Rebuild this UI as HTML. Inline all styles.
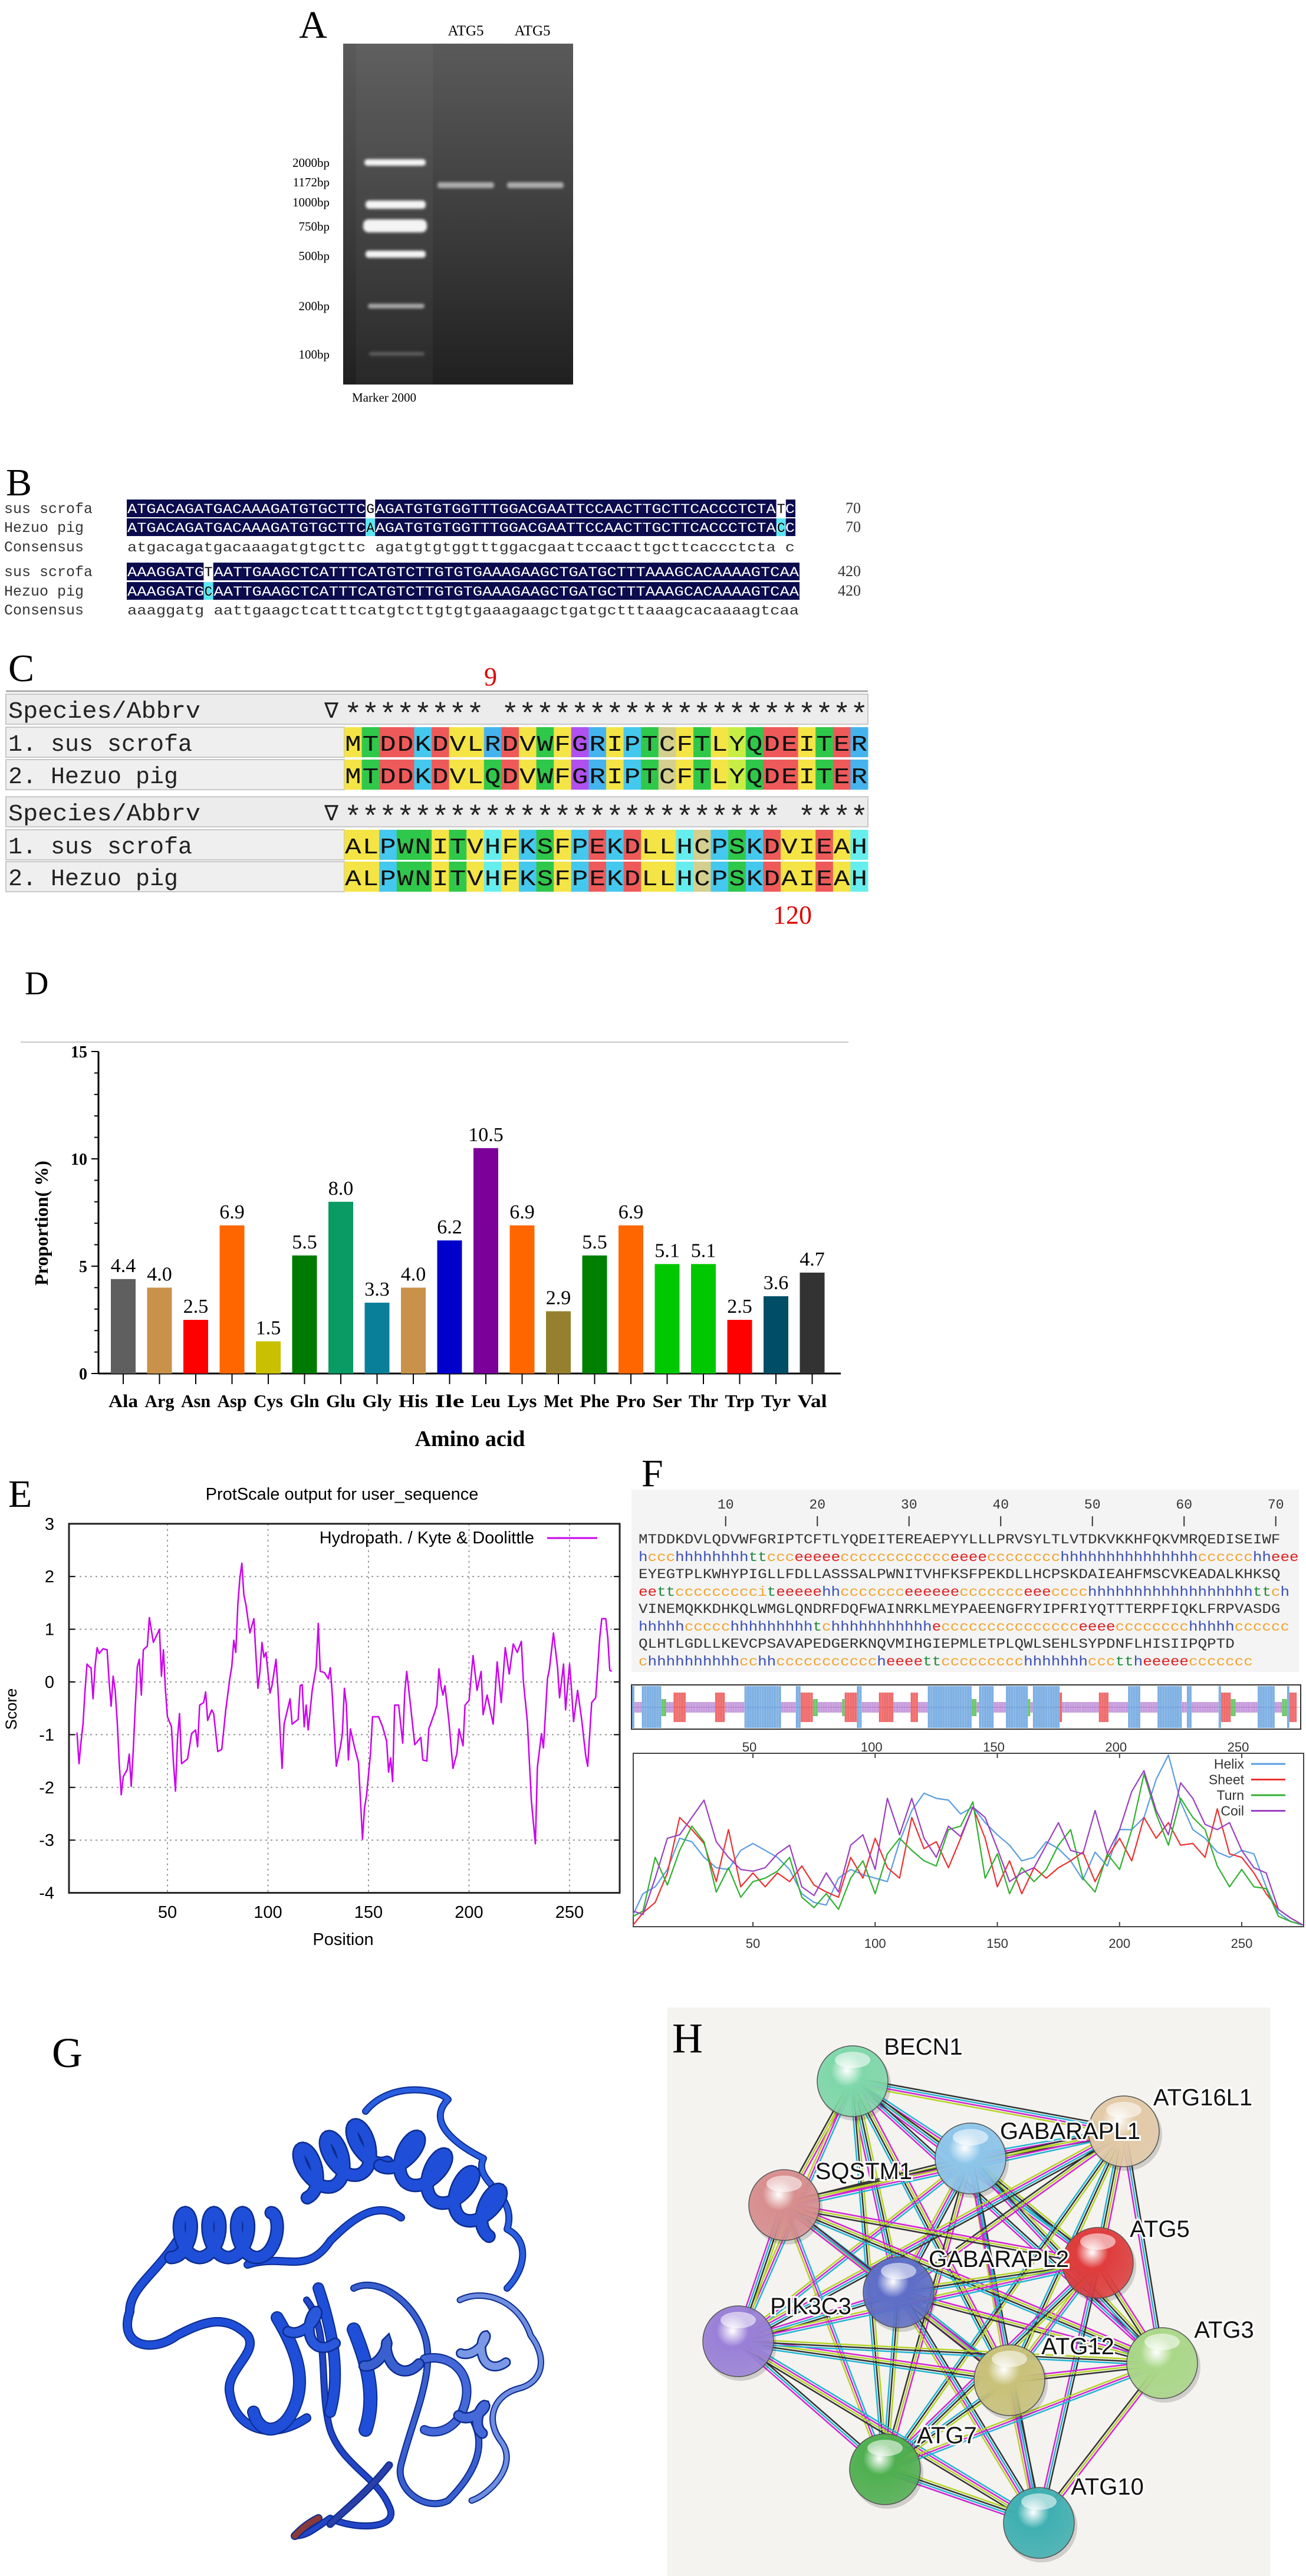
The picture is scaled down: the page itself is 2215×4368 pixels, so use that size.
<!DOCTYPE html>
<html><head><meta charset="utf-8"><style>
html,body{margin:0;padding:0;background:#fff;}
svg{display:block;}
.serif{font-family:"Liberation Serif",serif;}
.sans{font-family:"Liberation Sans",sans-serif;}
.mono{font-family:"Liberation Mono",monospace;}
</style></head><body>
<svg id="fig" width="2215" height="4368" viewBox="0 0 2215 4368" xmlns="http://www.w3.org/2000/svg">
<defs>
<linearGradient id="gelg" x1="0" y1="0" x2="0" y2="1"><stop offset="0" stop-color="#5a5a5a"/><stop offset="0.5" stop-color="#3e3e3e"/><stop offset="1" stop-color="#202020"/></linearGradient>
<filter id="blur2"><feGaussianBlur stdDeviation="2.5"/></filter>
<clipPath id="stripclip"><rect x="1072" y="2858" width="1133" height="73"/></clipPath>
</defs>

<!-- Panel A -->
<g>
<text class="serif" x="531" y="64" font-size="66" text-anchor="middle">A</text>
<text class="serif" x="790" y="60" font-size="25" text-anchor="middle">ATG5</text>
<text class="serif" x="903" y="60" font-size="25" text-anchor="middle">ATG5</text>
<rect x="582" y="74" width="390" height="578" fill="url(#gelg)"/>
<rect x="604" y="74" width="130" height="578" fill="#fff" opacity="0.04"/>
<g filter="url(#blur2)" fill="#f4f4f4">
<rect x="618" y="270" width="104" height="11" rx="5"/>
<rect x="620" y="340" width="102" height="14" rx="6"/>
<rect x="616" y="372" width="108" height="22" rx="9"/>
<rect x="620" y="425" width="102" height="12" rx="5"/>
<rect x="624" y="515" width="96" height="8" rx="4" opacity="0.6"/>
<rect x="626" y="597" width="94" height="6" rx="3" opacity="0.25"/>
<rect x="742" y="309" width="96" height="10" rx="4" opacity="0.6"/>
<rect x="860" y="309" width="96" height="10" rx="4" opacity="0.6"/>
</g>
<g class="serif" font-size="21" text-anchor="end">
<text x="559" y="283">2000bp</text>
<text x="559" y="316">1172bp</text>
<text x="559" y="350">1000bp</text>
<text x="559" y="391">750bp</text>
<text x="559" y="441">500bp</text>
<text x="559" y="526">200bp</text>
<text x="559" y="608">100bp</text>
</g>
<text class="serif" x="597" y="681" font-size="21">Marker 2000</text>
</g>

<!-- Panel B -->
<g id="panelB">
<text class="serif" x="10" y="840" font-size="66">B</text>
</g>
<!-- Panel C -->
<g id="panelC">
<text class="serif" x="14" y="1155" font-size="66">C</text>
<text class="serif" x="832" y="1162" font-size="44" fill="#e00000" text-anchor="middle">9</text>
<text class="serif" x="1344" y="1566" font-size="44" fill="#e00000" text-anchor="middle">120</text>
</g>
<!-- Panel D -->
<g id="panelD">
<text class="serif" x="42" y="1686" font-size="56">D</text>
<line x1="35" y1="1767" x2="1439" y2="1767" stroke="#c8c8c8" stroke-width="2"/>
<text class="serif" x="797" y="2452" font-size="38" font-weight="bold" text-anchor="middle">Amino acid</text>
<text class="serif" font-size="32" font-weight="bold" text-anchor="middle" transform="translate(81,2074) rotate(-90)">Proportion( %)</text>
</g>
<!-- Panel E -->
<g id="panelE">
<text class="serif" x="14" y="2555" font-size="66">E</text>
<text class="sans" x="580" y="2543" font-size="29" text-anchor="middle">ProtScale output for user_sequence</text>
<text class="sans" x="582" y="3298" font-size="29" text-anchor="middle">Position</text>
<text class="sans" font-size="27" text-anchor="middle" transform="translate(28,2898) rotate(-90)">Score</text>
<text class="sans" x="906" y="2617" font-size="29" text-anchor="end">Hydropath. / Kyte &amp; Doolittle</text>
<line x1="928" y1="2608" x2="1013" y2="2608" stroke="#cc00ee" stroke-width="3"/>
</g>
<!-- Panel F -->
<g id="panelF">
<text class="serif" x="1088" y="2520" font-size="66">F</text>
<rect x="1071" y="2526" width="1132" height="309" fill="#f4f4f4"/>
<rect x="1071" y="2857" width="1135" height="75" fill="#fff" stroke="#333" stroke-width="2"/>
<rect x="1074" y="2973" width="1137" height="294" fill="#fff" stroke="#444" stroke-width="2"/>
</g>
<!-- Panel G -->
<g id="panelG">
<text class="serif" x="88" y="3505" font-size="72">G</text>
</g>
<!-- Panel H -->
<g id="panelH">
<rect x="1132" y="3404" width="1022" height="964" fill="#f4f3ef"/>
<text class="serif" x="1140" y="3480" font-size="72">H</text>
</g>
</svg>
<script>
const NS='http://www.w3.org/2000/svg';
function mk(tag,attrs,parent){const e=document.createElementNS(NS,tag);for(const k in attrs)e.setAttribute(k,attrs[k]);parent.appendChild(e);return e;}
function tx(str,attrs,parent){const e=mk('text',attrs,parent);e.textContent=str;return e;}

/* ---------- Panel B data ---------- */
const bNames=['sus scrofa','Hezuo pig','Consensus'];
const bBlock1=['ATGACAGATGACAAAGATGTGCTTCGAGATGTGTGGTTTGGACGAATTCCAACTTGCTTCACCCTCTATC','ATGACAGATGACAAAGATGTGCTTCAAGATGTGTGGTTTGGACGAATTCCAACTTGCTTCACCCTCTACC','atgacagatgacaaagatgtgcttc agatgtgtggtttggacgaattccaacttgcttcaccctcta c'];
const bBlock2=['AAAGGATGTAATTGAAGCTCATTTCATGTCTTGTGTGAAAGAAGCTGATGCTTTAAAGCACAAAAGTCAA','AAAGGATGCAATTGAAGCTCATTTCATGTCTTGTGTGAAAGAAGCTGATGCTTTAAAGCACAAAAGTCAA','aaaggatg aattgaagctcatttcatgtcttgtgtgaaagaagctgatgctttaaagcacaaaagtcaa'];
const bDiff1=[25,68], bDiff2=[8];
const bEnds=['70','420'];
(function(){
 const g=document.getElementById('panelB');
 const blocks=[[bBlock1,bDiff1,[862,894,927],1349,bEnds[0]],[bBlock2,bDiff2,[969,1002,1034],1356,bEnds[1]]];
 blocks.forEach((bl,bi)=>{
  const [seqs,diffs,ys,right,endN]=bl; const x0=215; const cw=(right-x0)/70;
  for(let r=0;r<3;r++){
   const y=ys[r];
   const nm=tx(bNames[r],{x:7,y:y+8,'font-size':25,class:'mono',fill:'#333'},g);
   
   
   if(r<2){
    const bg=mk('rect',{x:x0,y:y-15,width:right-x0,height:30,fill:'#0b0b4e'},g);
    
    
    diffs.forEach(d=>{
     const c=mk('rect',{x:x0+d*cw,y:y-15,width:cw,height:30,fill:r===0?'#ffffff':'#5ee6f0'},g);
     
     
    });
    const t=tx(seqs[r],{x:x0+1,y:y+8,'font-size':23,class:'mono',fill:'#fff',textLength:right-x0-2,lengthAdjust:'spacingAndGlyphs'},g);
    
    
    diffs.forEach(d=>{
     const c=tx(seqs[r][d],{x:x0+d*cw+cw/2,y:y+8,'font-size':23,class:'mono',fill:'#000','text-anchor':'middle'},g);
     
     
    });
    const n=tx(endN,{x:1460,y:y+8,'font-size':26,class:'serif',fill:'#333','text-anchor':'end'},g);
    
    
   } else {
    const t=tx(seqs[r],{x:x0+1,y:y+8,'font-size':23,class:'mono',fill:'#333',textLength:right-x0-2,lengthAdjust:'spacingAndGlyphs'},g);
    
    
   }
  }
 });
})();

/* ---------- Panel C data ---------- */
const cSeqs1=['MTDDKDVLRDVWFGRIPTCFTLYQDEITER','MTDDKDVLQDVWFGRIPTCFTLYQDEITER'];
const cSeqs2=['ALPWNITVHFKSFPEKDLLHCPSKDVIEAH','ALPWNITVHFKSFPEKDLLHCPSKDAIEAH'];
const cGap1=[8], cGap2=[25];
const cSpecies=['1.  sus scrofa','2.  Hezuo pig'];
const resColor={M:'#f4e445',T:'#2fc84a',D:'#ee5a5a',K:'#45c8ee',V:'#f4e445',L:'#f4e445',R:'#45b4ee',Q:'#2fc84a',W:'#2fc84a',F:'#f4e445',G:'#b050ee',I:'#f4e445',P:'#45c8ee',C:'#d4cf8e',Y:'#c8ee45',E:'#ee5a5a',A:'#f4e445',N:'#2fc84a',H:'#66eeee',S:'#2fc84a'};
(function(){
 const g=document.getElementById('panelC');
 const top=mk('line',{x1:10,y1:1172,x2:1472,y2:1172,stroke:'#aaa','stroke-width':3},g);
 
 
 const x0=584, cw=(1472-584)/30;
 const blocks=[[cSeqs1,cGap1,[1177,1233,1288]],[cSeqs2,cGap2,[1351,1407,1461]]];
 blocks.forEach(bl=>{
  const [seqs,gaps,ys]=bl; const h=51;
  const hb=mk('rect',{x:10,y:ys[0],width:1462,height:h,fill:'#ececec',stroke:'#c8c8c8','stroke-width':2},g);
  
  
  const hn=tx('Species/Abbrv',{x:14,y:ys[0]+40,'font-size':40,class:'mono',fill:'#222',textLength:326,lengthAdjust:'spacingAndGlyphs'},g);
  
  
  const tri=tx('\u2207',{x:562,y:ys[0]+40,'font-size':36,class:'sans','text-anchor':'middle',fill:'#222'},g);
  
  
  for(let i=0;i<30;i++){
   if(gaps.indexOf(i)>=0)continue;
   const a=tx('*',{x:x0+i*cw+cw/2,y:ys[0]+50,'font-size':50,class:'mono','text-anchor':'middle',fill:'#222'},g);
   
   
  }
  for(let r=0;r<2;r++){
   const y=ys[r+1];
   const nb=mk('rect',{x:10,y:y,width:574,height:h,fill:'#efefef',stroke:'#c8c8c8','stroke-width':2},g);
   
   
   const nt=tx(cSpecies[r],{x:14,y:y+40,'font-size':40,class:'mono',fill:'#222'},g);
   
   
   for(let i=0;i<30;i++){
    const ch=seqs[r][i];
    const c=mk('rect',{x:x0+i*cw,y:y,width:cw+0.5,height:h,fill:resColor[ch]||'#fff'},g);
    
    
    const t=tx(ch,{x:x0+i*cw+cw/2,y:y+40,'font-size':38,class:'mono','text-anchor':'middle',fill:'#111',textLength:cw-2,lengthAdjust:'spacingAndGlyphs'},g);
    
    
   }
  }
 });
})();

/* ---------- Panel D data ---------- */
const aaCategories=['Ala','Arg','Asn','Asp','Cys','Gln','Glu','Gly','His','Ile','Leu','Lys','Met','Phe','Pro','Ser','Thr','Trp','Tyr','Val'];
const aaValues=[4.4,4.0,2.5,6.9,1.5,5.5,8.0,3.3,4.0,6.2,10.5,6.9,2.9,5.5,6.9,5.1,5.1,2.5,3.6,4.7];
const aaColors=['#5f5f5f','#c8924a','#ff0000','#ff6600','#c8c000','#007a00','#0a9a64','#0a7f9a','#c8924a','#0000cc','#7a0099','#ff6600','#958030','#008000','#ff6600','#00c800','#00c800','#ff0000','#004d66','#333333'];
const dYTicks=[0,5,10,15];
(function(){
 const g=document.getElementById('panelD');
 const xD=i=>209+i*61.5, yD=v=>2329-v*36.4;
 const ax=mk('line',{x1:167,y1:yD(0),x2:1426,y2:yD(0),stroke:'#000','stroke-width':3},g);
 
 
 const ay=mk('line',{x1:167,y1:yD(0),x2:167,y2:yD(15),stroke:'#000','stroke-width':3},g);
 
 
 for(let v=0;v<=15;v++){
  const major=dYTicks.indexOf(v)>=0;
  const t=mk('line',{x1:major?155:160,y1:yD(v),x2:167,y2:yD(v),stroke:'#000','stroke-width':2},g);
  
  
 }
 dYTicks.forEach(v=>{
  const l=tx(String(v),{x:148,y:yD(v)+10,'font-size':28,class:'serif','font-weight':'bold','text-anchor':'end'},g);
  
  
 });
 aaCategories.forEach((c,i)=>{
  const b=mk('rect',{x:xD(i)-21,y:yD(aaValues[i]),width:42,height:yD(0)-yD(aaValues[i]),fill:aaColors[i]},g);
  
  
  const tk=mk('line',{x1:xD(i),y1:yD(0),x2:xD(i),y2:yD(0)+18,stroke:'#000','stroke-width':2},g);
  
  
  const lb=tx(c,{x:xD(i),y:2386,'font-size':31,class:'serif','font-weight':'bold','text-anchor':'middle',textLength:50,lengthAdjust:'spacingAndGlyphs'},g);
  
  
  const vl=tx(aaValues[i].toFixed(1),{x:xD(i),y:yD(aaValues[i])-12,'font-size':34,class:'serif','text-anchor':'middle'},g);
  
  
 });
})();

/* ---------- Panel E data ---------- */
const hydroPos=[5,6,7,8,9,10,11,12,13,14,15,16,18,20,21,22,23,24,25,26,27,28,30,31,32,33,34,35,36,37,38,40,41,43,46,47,48,49,50,52,53,54,55,56,57,60,62,64,65,66,68,69,70,72,73,75,77,79,81,82,83,84,85,86,87,88,89,91,93,94,95,96,97,98,99,101,102,104,105,106,107,108,111,112,115,116,117,118,119,120,122,124,125,126,128,130,131,132,133,134,136,137,138,139,140,141,143,145,146,147,148,149,151,152,155,157,159,160,161,162,163,165,167,168,169,171,173,176,177,179,180,183,184,185,186,187,188,190,192,194,195,197,198,200,202,204,206,207,209,212,214,216,218,220,222,224,226,227,229,231,233,234,236,237,239,240,242,244,245,247,248,250,251,252,254,256,258,259,261,263,265,266,268,269,270,271];
const hydroVals=[-0.96,-1.55,-1.14,-0.8,-0.16,0.34,0.29,0.27,-0.32,0.29,0.65,0.54,0.63,0.61,0,-0.46,0.11,-0.16,-0.75,-1.53,-2.14,-1.8,-1.66,-1.37,-1.98,-1.3,-0.48,0.29,0.43,-0.25,0.61,0.68,1.22,0.75,1.0,0.11,0.61,-0.16,-0.66,-0.85,-1.53,-2.07,-1.07,-0.6,-1.55,-1.46,-0.98,-0.91,-1.23,-0.44,-0.39,-0.19,-0.73,-0.53,-0.6,-1.32,-1.28,-0.53,0.06,0.29,0.79,0.56,1.47,1.97,2.25,1.65,1.47,0.93,1.2,0.52,-0.12,0.2,0.75,0.47,0.56,-0.21,-0.07,0.43,-0.16,-0.94,-1.64,-0.8,-0.32,-0.8,-0.71,-0.07,-0.05,-0.85,-0.44,-0.91,-0.16,0.29,1.11,0.2,0.18,0.06,0.27,-0.25,-0.94,-1.6,-1.23,-0.98,-0.12,-0.44,-1.48,-0.89,-1.23,-1.53,-2.25,-2.98,-2.39,-2.16,-1.35,-0.66,-0.66,-0.85,-1.12,-1.71,-1.44,-1.89,-0.44,-0.44,-1.16,-0.21,0.2,-0.48,-1.19,-1.05,-1.48,-1.5,-0.89,-0.57,-0.44,0.25,-0.07,-0.25,-0.07,-0.75,-1.64,-1.35,-0.89,-1.21,-0.44,-0.35,0.5,-0.16,0.2,-0.62,-0.25,-0.8,0.38,-0.39,0.65,0.15,0.72,0.56,0.77,0.02,-0.75,-2.25,-3.07,-1.62,-0.98,-1.25,0.06,0.25,0.93,0.29,-0.3,0.34,-0.53,0.34,-0.16,-0.75,-0.16,-0.71,-1.39,-1.6,-0.39,-0.3,0.84,1.2,1.2,0.84,0.22,0.2];
const eYTicks=[3,2,1,0,-1,-2,-3,-4];
const eXTicks=[50,100,150,200,250];
(function(){
 const g=document.getElementById('panelE');
 const xE=p=>113.5+p*3.41, yE=v=>2852-v*89.4;
 const L=117,R=1051;
 eYTicks.forEach(v=>{
  if(v!==3&&v!==-4){const gl=mk('line',{x1:L,y1:yE(v),x2:R,y2:yE(v),stroke:'#999','stroke-width':2,'stroke-dasharray':'3,6'},g);
  
  }
  const tk=mk('line',{x1:L,y1:yE(v),x2:L+10,y2:yE(v),stroke:'#000','stroke-width':2},g);
  
  
  const tk2=mk('line',{x1:R-10,y1:yE(v),x2:R,y2:yE(v),stroke:'#000','stroke-width':2},g);
  
  
  const lb=tx(String(v),{x:92,y:yE(v)+10,'font-size':29,class:'sans','text-anchor':'end'},g);
  
  
 });
 eXTicks.forEach(p=>{
  const gl=mk('line',{x1:xE(p),y1:yE(3),x2:xE(p),y2:yE(-4),stroke:'#999','stroke-width':2,'stroke-dasharray':'3,6'},g);
  
  
  const lb=tx(String(p),{x:xE(p),y:3252,'font-size':29,class:'sans','text-anchor':'middle'},g);
  
  
 });
 const fr=mk('rect',{x:L,y:yE(3),width:R-L,height:yE(-4)-yE(3),fill:'none',stroke:'#222','stroke-width':3},g);
 
 
 const pts=hydroPos.map((p,i)=>xE(p).toFixed(1)+','+yE(hydroVals[i]).toFixed(1)).join(' ');
 const pl=mk('polyline',{points:pts,fill:'none',stroke:'#cc00ee','stroke-width':2.5,'stroke-linejoin':'round'},g);
 
 
})();

/* ---------- Panel F data ---------- */
const fSeqLines=['MTDDKDVLQDVWFGRIPTCFTLYQDEITEREAEPYYLLLPRVSYLTLVTDKVKKHFQKVMRQEDISEIWF','EYEGTPLKWHYPIGLLFDLLASSSALPWNITVHFKSFPEKDLLHCPSKDAIEAHFMSCVKEADALKHKSQ','VINEMQKKDHKQLWMGLQNDRFDQFWAINRKLMEYPAEENGFRYIPFRIYQTTTERPFIQKLFRPVASDG','QLHTLGDLLKEVCPSAVAPEDGERKNQVMIHGIEPMLETPLQWLSEHLSYPDNFLHISIIPQPTD'];
const fSSLines=['hccchhhhhhhhttccceeeeecccccccccccceeeecccccccchhhhhhhhhhhhhhhcccccchheee','eettccccccccciteeeeehhccccccceeeeeeccccccceeecccchhhhhhhhhhhhhhhhhhttch','hhhhhccccchhhhhhhhhtchhhhhhhhhhheccccccccccccccceeeecccccccchhhhhcccccc','chhhhhhhhhhcchhcccccccccccheeeettccccccccchhhhhhhcccttheeeeeccccccc'];
const fRuler=[10,20,30,40,50,60,70];
const ssPos=[1,5,10,15,20,25,30,35,40,45,50,55,60,65,70,75,80,85,90,95,100,105,110,115,120,125,130,135,140,145,150,155,160,165,170,175,180,185,190,195,200,205,210,215,220,225,230,235,240,245,250,255,260,265,270,275];
const helixVals=[.07,.19,.23,.33,.51,.49,.40,.34,.33,.44,.48,.44,.40,.33,.19,.14,.125,.28,.33,.30,.28,.26,.49,.67,.77,.74,.73,.65,.69,.60,.53,.47,.38,.40,.49,.45,.38,.27,.43,.35,.56,.56,.63,.85,.99,.72,.56,.51,.43,.40,.44,.42,.23,.08,.03,.01];
const sheetVals=[.01,.08,.14,.31,.63,.56,.48,.26,.56,.23,.31,.23,.31,.26,.35,.24,.20,.17,.40,.28,.51,.34,.28,.63,.45,.49,.34,.51,.69,.51,.23,.38,.19,.34,.28,.34,.38,.43,.26,.40,.51,.38,.63,.51,.60,.47,.48,.40,.68,.42,.40,.31,.19,.10,.05,.01];
const turnVals=[.06,.09,.40,.24,.44,.58,.49,.20,.34,.17,.26,.28,.32,.40,.17,.11,.19,.10,.28,.38,.19,.42,.51,.44,.38,.35,.56,.58,.72,.28,.42,.19,.34,.26,.33,.47,.56,.28,.20,.42,.33,.56,.88,.65,.47,.74,.63,.56,.35,.23,.33,.23,.22,.06,.03,.01];
const coilVals=[.09,.07,.28,.51,.53,.63,.73,.49,.40,.33,.32,.34,.42,.47,.23,.18,.31,.20,.47,.53,.33,.74,.53,.74,.51,.40,.58,.52,.69,.63,.45,.26,.31,.34,.47,.60,.44,.42,.67,.42,.56,.78,.90,.67,.53,.83,.74,.59,.56,.60,.44,.34,.31,.10,.05,.01];
const fXTicks=[50,100,150,200,250];
const fLegend=['Helix','Sheet','Turn','Coil'];
(function(){
 const g=document.getElementById('panelF');
 const cw=15.55, sx=1083;
 fRuler.forEach(n=>{
  const x=sx+(n-0.5)*cw;
  const l=tx(String(n),{x:x,y:2558,'font-size':23,class:'mono',fill:'#333','text-anchor':'middle'},g);
  
  
  const t=mk('line',{x1:x,y1:2571,x2:x,y2:2588,stroke:'#333','stroke-width':2},g);
  
  
 });
 const ssCol={h:'#3a4fb8',c:'#f2a530',e:'#e02020',t:'#1f8a3a',i:'#f2a530'};
 for(let r=0;r<4;r++){
  const y=2617+r*59;
  const s=tx(fSeqLines[r],{x:sx,y:y,'font-size':23,class:'mono',fill:'#333',textLength:fSeqLines[r].length*cw,lengthAdjust:'spacingAndGlyphs'},g);
  
  
  const ss=fSSLines[r];
  const t=mk('text',{x:sx,y:y+30,'font-size':23,class:'mono',textLength:ss.length*cw,lengthAdjust:'spacingAndGlyphs'},g);
  
  
  for(const ch of ss){const sp=document.createElementNS(NS,'tspan');sp.setAttribute('fill',ssCol[ch]||'#f2a530');sp.textContent=ch;t.appendChild(sp);}
 }
 const xF=p=>1277+(p-50)*4.145;
 const all=fSSLines.join('');
 const sg=mk('g',{'clip-path':'url(#stripclip)'},g);
 
 
 const mline=mk('line',{x1:1072,y1:2895,x2:2205,y2:2895,stroke:'#d0a0e0','stroke-width':1},sg);
 
 
 const n=Math.min(all.length,272);
 for(let i=0;i<n;i++){
  const ch=all[i], x=xF(i+1);
  let y1,y2,col,w;
  if(ch==='h'){y1=2859;y2=2930;col='#4a90d8';w=1.4;}
  else if(ch==='e'){y1=2870;y2=2920;col='#e83030';w=1.4;}
  else if(ch==='t'){y1=2881;y2=2910;col='#30b030';w=1.4;}
  else {y1=2886;y2=2904;col='#9a50c0';w=1.1;}
  for(let k=0;k<2;k++){
   const ln=mk('line',{x1:x+k*2-1,y1:y1,x2:x+k*2-1,y2:y2,stroke:col,'stroke-width':w},sg);
   
   
  }
 }
 fXTicks.forEach(p=>{
  const l=tx(String(p),{x:xF(p)-6,y:2970,'font-size':22,class:'sans',fill:'#333','text-anchor':'middle'},g);
  
  
  const l2=tx(String(p),{x:xF(p),y:3303,'font-size':22,class:'sans',fill:'#333','text-anchor':'middle'},g);
  
  
  const t=mk('line',{x1:xF(p),y1:3267,x2:xF(p),y2:3259,stroke:'#444','stroke-width':2},g);
  
  
  const t2=mk('line',{x1:xF(p),y1:2973,x2:xF(p),y2:2981,stroke:'#444','stroke-width':2},g);
  
  
 });
 const yF=v=>3267-v*294;
 const series=[[helixVals,'#5a9de0'],[sheetVals,'#ee3030'],[turnVals,'#30b030'],[coilVals,'#9a40c0']];
 series.forEach((s,si)=>{
  const pts=ssPos.map((p,i)=>xF(p).toFixed(1)+','+yF(s[0][i]).toFixed(1)).join(' ');
  const pl=mk('polyline',{points:pts,fill:'none',stroke:s[1],'stroke-width':2.2,'stroke-linejoin':'round'},g);
  
  
  const ly=2991+si*26.5;
  const lt=tx(fLegend[si],{x:2110,y:ly+8,'font-size':23,class:'sans',fill:'#333','text-anchor':'end'},g);
  
  
  const ll=mk('line',{x1:2122,y1:ly,x2:2180,y2:ly,stroke:s[1],'stroke-width':3},g);
  
  
 });
})();

/* ---------- Panel G: ribbon illustration ---------- */
(function(){
 const g=document.getElementById('panelG');
 function helix(ax,ay,bx,by,n,r,col,w){
  w=w||16;
  const L=Math.hypot(bx-ax,by-ay), ux=(bx-ax)/L, uy=(by-ay)/L, px=-uy, py=ux;
  let d='';
  for(let k=0;k<=n*40;k++){
   const t=k/(n*40), ang=2*Math.PI*n*t;
   const al=L*t+r*0.55*Math.sin(ang), pe=r*Math.cos(ang);
   const x=ax+ux*al+px*pe, y=ay+uy*al+py*pe;
   d+=(k?'L':'M')+x.toFixed(1)+' '+y.toFixed(1);
  }
  const o=mk('path',{d:d,fill:'none',stroke:'#0c2c90','stroke-width':w+5,'stroke-linecap':'round'},g);
  
  
  const p=mk('path',{d:d,fill:'none',stroke:col,'stroke-width':w,'stroke-linecap':'round'},g);
  
  
 }
 function coil(d,col,w){
  const o=mk('path',{d:d,fill:'none',stroke:'#0c2c90','stroke-width':w+4,'stroke-linecap':'round','stroke-linejoin':'round'},g);
  
  
  const p=mk('path',{d:d,fill:'none',stroke:col,'stroke-width':w,'stroke-linecap':'round','stroke-linejoin':'round'},g);
  
  
 }
 coil('M620 3580 C660 3530 740 3540 760 3560 C720 3600 780 3640 820 3660 C800 3700 880 3720 860 3780 C900 3800 890 3850 860 3880','#2a5ee0',8);
 coil('M300 3800 C260 3860 220 3880 220 3920 C200 3980 260 3990 300 3960 C340 3940 380 3920 420 3960 C440 3990 380 4020 390 4060 C400 4120 460 4140 520 4100','#1f4fd8',12);
 coil('M420 3840 C480 3820 520 3860 560 3800 C600 3760 640 3730 680 3760','#1f4fd8',10);
 coil('M520 3900 C560 3950 540 4050 560 4120 C580 4180 640 4200 660 4250 C680 4290 600 4290 560 4270 C530 4290 520 4300 500 4300','#2346c8',8);
 coil('M600 3880 C640 3860 700 3900 720 3960 C740 4020 700 4100 680 4180 C670 4220 720 4260 760 4240 C800 4200 830 4150 800 4100','#3a60d0',8);
 coil('M780 3900 C820 3880 880 3900 900 3960 C930 4000 920 4040 880 4050 C840 4060 820 4100 850 4140 C880 4180 830 4230 800 4240','#6f8ee0',7);
 coil('M720 4000 C760 3990 800 4020 790 4070 C780 4120 740 4130 720 4120','#4468d8',12);
 coil('M470 3930 C500 3980 520 4030 500 4080 C480 4130 440 4130 430 4090','#1f4fd8',18);
 coil('M600 3950 C620 4000 640 4060 620 4120','#1f4fd8',20);
 coil('M540 3880 C560 3940 580 4020 560 4090','#1f4fd8',16);
 coil('M660 4180 C620 4230 580 4260 560 4280','#2a3fa8',9);
 coil('M540 4270 C520 4280 510 4290 500 4300','#8a3a3a',10);
 helix(290,3790,460,3790,3.5,38,'#1f4fd8',18);
 helix(505,3690,640,3630,3,40,'#1f4fd8',18);
 helix(665,3640,850,3760,4,38,'#1f4fd8',18);
 helix(500,3930,560,3960,1.2,26,'#2a58dc',14);
 helix(620,3990,700,4000,1.2,22,'#3a60d0',14);
 helix(790,3970,850,3995,1.2,22,'#7a98e4',12);
 helix(790,4080,830,4110,1,20,'#4468d8',14);
})();

/* ---------- Panel H: network ---------- */
const netNodes=['BECN1','ATG16L1','GABARAPL1','SQSTM1','ATG5','GABARAPL2','PIK3C3','ATG12','ATG3','ATG7','ATG10'];
const netEdges=[['BECN1','ATG16L1'],['BECN1','GABARAPL1'],['BECN1','SQSTM1'],['BECN1','GABARAPL2'],['BECN1','ATG5'],['BECN1','PIK3C3'],['BECN1','ATG12'],['BECN1','ATG7'],['BECN1','ATG3'],['GABARAPL1','ATG16L1'],['GABARAPL1','SQSTM1'],['GABARAPL1','ATG5'],['GABARAPL1','GABARAPL2'],['GABARAPL1','ATG12'],['GABARAPL1','ATG7'],['GABARAPL1','ATG3'],['GABARAPL1','ATG10'],['GABARAPL1','PIK3C3'],['ATG16L1','ATG5'],['ATG16L1','ATG12'],['ATG16L1','ATG3'],['ATG16L1','SQSTM1'],['ATG16L1','GABARAPL2'],['ATG16L1','ATG7'],['ATG16L1','PIK3C3'],['SQSTM1','GABARAPL2'],['SQSTM1','ATG5'],['SQSTM1','PIK3C3'],['SQSTM1','ATG12'],['SQSTM1','ATG7'],['SQSTM1','ATG3'],['GABARAPL2','ATG5'],['GABARAPL2','PIK3C3'],['GABARAPL2','ATG12'],['GABARAPL2','ATG3'],['GABARAPL2','ATG7'],['GABARAPL2','ATG10'],['ATG5','ATG12'],['ATG5','ATG3'],['ATG5','ATG7'],['ATG5','ATG10'],['ATG5','PIK3C3'],['PIK3C3','ATG12'],['PIK3C3','ATG3'],['PIK3C3','ATG7'],['PIK3C3','ATG10'],['ATG12','ATG3'],['ATG12','ATG7'],['ATG12','ATG10'],['ATG3','ATG7'],['ATG3','ATG10'],['ATG7','ATG10']];
const nodeLayout={BECN1:[1446,3529,1566,3470,'#7fd8aa'],ATG16L1:[1906,3614,2040,3556,'#e4cba8'],GABARAPL1:[1646,3660,1815,3613,'#8ec6ea'],SQSTM1:[1330,3739,1465,3681,'#d88e8e'],ATG5:[1862,3837,1967,3779,'#e03c3c'],GABARAPL2:[1524,3887,1694,3830,'#5e6ec8'],PIK3C3:[1252,3970,1375,3910,'#9a80d8'],ATG12:[1712,4036,1828,3978,'#c9c27a'],ATG3:[1971,4007,2076,3950,'#aad888'],ATG7:[1501,4187,1606,4129,'#4fb050'],ATG10:[1762,4278,1878,4216,'#3fb0b2']};
(function(){
 const g=document.getElementById('panelH');
 const cols=['#333333','#22b4d4','#d424d4','#b4d424'];
 netEdges.forEach(([a,b],ei)=>{
  const A=nodeLayout[a],B=nodeLayout[b];
  const L=Math.hypot(B[0]-A[0],B[1]-A[1]), px=-(B[1]-A[1])/L, py=(B[0]-A[0])/L;
  const n=(ei%3===0)?4:3;
  for(let k=0;k<n;k++){
   const o=(k-(n-1)/2)*4;
   const ln=mk('line',{x1:A[0]+px*o,y1:A[1]+py*o,x2:B[0]+px*o,y2:B[1]+py*o,stroke:cols[(k+ei)%4],'stroke-width':2.5},g);
   
   
  }
 });
 const defs=document.querySelector('defs');
 netNodes.forEach((nm,i)=>{
  const [x,y,lx,ly,c]=nodeLayout[nm];
  const gr=mk('radialGradient',{id:'ng'+i,cx:'0.42',cy:'0.35',r:'0.65'},defs);
  mk('stop',{offset:'0','stop-color':'#ffffff'},gr);
  mk('stop',{offset:'0.35','stop-color':c},gr);
  mk('stop',{offset:'1','stop-color':c,'stop-opacity':'0.85'},gr);
  const sh=mk('circle',{cx:x+4,cy:y+6,r:61,fill:'#000',opacity:0.15},g);
  
  
  const ci=mk('circle',{cx:x,cy:y,r:60,fill:'url(#ng'+i+')',stroke:'#555','stroke-width':1.5},g);
  
  
  const hl=mk('ellipse',{cx:x,cy:y-36,rx:30,ry:14,fill:'#fff',opacity:0.55},g);
  
  
 });
 netNodes.forEach(nm=>{
  const [x,y,lx,ly]=nodeLayout[nm];
  const t=tx(nm,{x:lx,y:ly+14,'font-size':40,class:'sans','text-anchor':'middle',fill:'#111',stroke:'#fff','stroke-width':6,'paint-order':'stroke'},g);
  
  
 });
})();
</script>
</body></html>
